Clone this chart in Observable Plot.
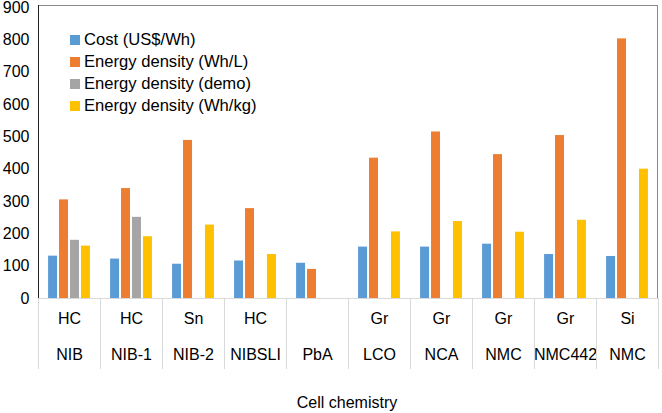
<!DOCTYPE html>
<html>
<head>
<meta charset="utf-8">
<script src="https://cdn.jsdelivr.net/npm/d3@7"></script>
<script src="https://cdn.jsdelivr.net/npm/@observablehq/plot@0.6"></script>
<style>
  html, body { margin: 0; padding: 0; background: #fff; }
  body { font-family: "Liberation Sans", Arial, sans-serif; }
  #wrap { position: relative; width: 662px; height: 413px; overflow: hidden; }
  #chart svg { overflow: visible; }
  #legend { position: absolute; left: 70px; top: 29px; font-size: 16.6px; color: #000; }
  #legend .row { height: 22px; line-height: 22px; display: flex; align-items: center; white-space: nowrap; }
  #legend .sw { width: 10px; height: 10px; margin-right: 4px; flex: none; }
  #xlabel { position: absolute; left: 247px; width: 200px; top: 393px; text-align: center; font-size: 16px; line-height: 20px; color: #000; }
</style>
</head>
<body>
<div id="wrap">
  <div id="chart"></div>
  <div id="legend"></div>
  <div id="xlabel">Cell chemistry</div>
</div>
<script>
// ---- data ----
const cathodes = ["NIB", "NIB-1", "NIB-2", "NIBSLI", "PbA", "LCO", "NCA", "NMC", "NMC442", "NMC"];
const anodes   = ["HC", "HC", "Sn", "HC", "", "Gr", "Gr", "Gr", "Gr", "Si"];
const seriesNames = ["Cost (US$/Wh)", "Energy density (Wh/L)", "Energy density (demo)", "Energy density (Wh/kg)"];
const seriesColors = ["#5B9BD5", "#ED7D31", "#A5A5A5", "#FFC000"];
const cost        = [131, 122, 106, 116, 109, 159, 159, 168, 136, 130];
const densityWhL  = [305, 340, 489, 278, 90, 434, 515, 445, 504, 803];
const densityDemo = [180, 251, null, null, null, null, null, null, null, null];
const densityWhKg = [162, 191, 227, 136, null, 206, 238, 205, 242, 400];
const yTicks = [0, 100, 200, 300, 400, 500, 600, 700, 800, 900];

// ---- build table ----
const keys = cathodes.map((_, i) => i);
const seriesValues = [cost, densityWhL, densityDemo, densityWhKg];
const rows = [];
seriesValues.forEach((vals, s) => {
  vals.forEach((v, i) => {
    if (v != null) rows.push({key: i, series: seriesNames[s], value: v});
  });
});

function frameAndSeparators(index, scales, values, dims) {
  const g = d3.create("svg:g");
  const fx = scales.fx;
  const top = dims.marginTop;
  const bottom = dims.height - dims.marginBottom;
  const left = dims.marginLeft;
  const right = dims.width - dims.marginRight;
  const edges = keys.map(k => fx(k));
  edges.push(fx(keys[keys.length - 1]) + fx.bandwidth());
  for (const e of edges) {
    const xe = Math.round(e) + 0.5;
    g.append("line").attr("x1", xe).attr("x2", xe).attr("y1", bottom).attr("y2", bottom + 71)
      .attr("stroke", "#d9d9d9").attr("stroke-width", 1);
  }
  g.append("line").attr("x1", left).attr("x2", right).attr("y1", bottom + 0.5).attr("y2", bottom + 0.5)
    .attr("stroke", "#d9d9d9");
  g.append("line").attr("x1", left).attr("x2", right).attr("y1", top - 1.5).attr("y2", top - 1.5)
    .attr("stroke", "#8a8a8a");
  g.append("line").attr("x1", right - 0.5).attr("x2", right - 0.5).attr("y1", top - 2).attr("y2", bottom)
    .attr("stroke", "#8a8a8a");
  g.append("line").attr("x1", left + 0.5).attr("x2", left + 0.5).attr("y1", top - 2).attr("y2", bottom)
    .attr("stroke", "#222");
  return g.node();
}

const chart = Plot.plot({
  width: 662,
  height: 383,
  marginLeft: 36,
  marginRight: 3,
  marginTop: 7,
  marginBottom: 85,
  style: {fontFamily: "'Liberation Sans', Arial, sans-serif", fontSize: "16px", color: "#000", background: "transparent", overflow: "visible"},
  fx: {domain: keys, padding: 0, axis: null, label: null},
  x: {domain: seriesNames, paddingInner: 0.18, paddingOuter: 0.92, round: false, axis: null, label: null},
  y: {domain: [0, 900], ticks: yTicks, tickSize: 0, tickPadding: 9, label: null, grid: false},
  color: {domain: seriesNames, range: seriesColors},
  marks: [
    Plot.barY(rows, {fx: "key", x: "series", y: "value", fill: "series", insetLeft: 0, insetRight: 0}),
    Plot.text(keys, {fx: d => d, text: d => anodes[d], frameAnchor: "bottom", dy: 25, fontSize: 16, fill: "#000"}),
    Plot.text(keys, {fx: d => d, text: d => cathodes[d], frameAnchor: "bottom", dy: 61, fontSize: 16, fill: "#000"}),
    Plot.frame({facet: "super", render: frameAndSeparators})
  ]
});
document.getElementById("chart").appendChild(chart);

// ---- legend ----
const legend = document.getElementById("legend");
seriesNames.forEach((name, i) => {
  const row = document.createElement("div");
  row.className = "row";
  const sw = document.createElement("span");
  sw.className = "sw";
  sw.style.background = seriesColors[i];
  const t = document.createElement("span");
  t.textContent = name;
  row.appendChild(sw);
  row.appendChild(t);
  legend.appendChild(row);
});
</script>
</body>
</html>
